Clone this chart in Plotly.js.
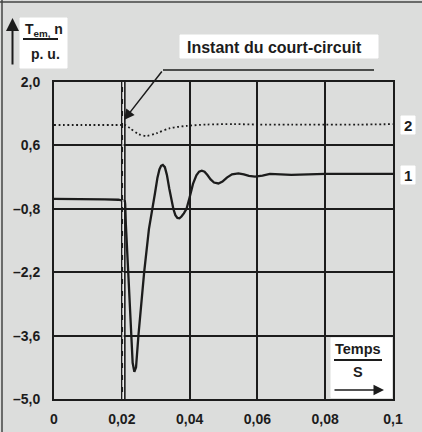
<!DOCTYPE html>
<html>
<head>
<meta charset="utf-8">
<script src="https://cdn.plot.ly/plotly-3.0.1.min.js"></script>
<style>html,body{margin:0;padding:0;background:#dcdddc;}</style>
</head>
<body>
<div id="chart" style="width:422px;height:432px;"></div>
<script>
// --- data ---
const xTickVals = [0, 0.02, 0.04, 0.06, 0.08, 0.1];
const xTickText = ['0', '0,02', '0,04', '0,06', '0,08', '0,1'];
const yTickVals = [2.0, 0.6, -0.8, -2.2, -3.6, -5.0];
const yTickText = ['2,0', '0,6', '\u20130,8', '\u20132,2', '\u20133,6', '\u20135,0'];

// curve 1 : electromagnetic torque Tem (p.u.)
const t1 = [0, 0.005, 0.01, 0.015, 0.019, 0.0203, 0.0209, 0.0210, 0.0212, 0.0219, 0.0227, 0.0232, 0.0237, 0.0242, 0.0249, 0.0257, 0.0266, 0.0280, 0.0291, 0.0298, 0.0305, 0.0311, 0.0316, 0.0321, 0.0327, 0.0333, 0.0340, 0.0346, 0.0352, 0.0358, 0.0364, 0.0370, 0.0376, 0.0383, 0.0391, 0.0400, 0.0410, 0.0420, 0.0428, 0.0436, 0.0444, 0.0452, 0.0462, 0.0472, 0.0485, 0.0497, 0.0510, 0.0525, 0.0544, 0.0560, 0.0575, 0.0593, 0.0615, 0.0637, 0.0670, 0.0700, 0.0750, 0.0800, 0.0900, 0.1000];
const v1 = [-0.58, -0.58, -0.59, -0.59, -0.60, -0.61, -0.63, -0.70, -1.15, -2.20, -3.60, -4.20, -4.40, -4.30, -3.60, -2.85, -2.20, -1.25, -0.80, -0.45, -0.12, 0.07, 0.15, 0.17, 0.12, -0.05, -0.35, -0.60, -0.80, -0.94, -1.00, -1.01, -0.97, -0.90, -0.80, -0.55, -0.25, -0.06, 0.02, 0.04, 0.02, -0.05, -0.15, -0.22, -0.24, -0.20, -0.11, -0.04, -0.016, -0.04, -0.075, -0.09, -0.07, -0.03, -0.04, -0.05, -0.04, -0.03, -0.03, -0.03];

// curve 2 : speed n (p.u.), dotted
const t2 = [0, 0.01, 0.02, 0.021, 0.0224, 0.0249, 0.0273, 0.0303, 0.0342, 0.0391, 0.045, 0.053, 0.06, 0.07, 0.08, 0.09, 0.1];
const v2 = [1.05, 1.05, 1.05, 1.05, 0.98, 0.85, 0.81, 0.87, 0.98, 1.03, 1.06, 1.07, 1.06, 1.06, 1.06, 1.06, 1.07];

const faultTime = 0.0209;

// --- layout helpers (pixel -> paper) ---
const L = 54, R = 393, T = 82, B = 399;
const PX = x => (x - L) / (R - L);
const PY = y => (B - y) / (B - T);
const INK = '#1c1c1c';
const BG = '#dcdddc';
const BOX = '#ffffff';
const FONT = 'Liberation Sans, Arial, Helvetica, sans-serif';

const traces = [
  {x: t1, y: v1, mode: 'lines', line: {color: INK, width: 2.3, shape: 'linear'}, hoverinfo: 'skip'},
  {x: t2, y: v2, mode: 'lines', line: {color: INK, width: 1.8, dash: '1.8px,2.6px', shape: 'spline', smoothing: 0.8}, hoverinfo: 'skip'}
];

const box = (x0, y0, x1, y1) => ({
  type: 'rect', xref: 'paper', yref: 'paper', x0: PX(x0), x1: PX(x1), y0: PY(y1), y1: PY(y0),
  fillcolor: BOX, opacity: 1, line: {color: BOX, width: 1}, layer: 'above'
});
const hline = (x0, x1, y, w) => ({
  type: 'line', xref: 'paper', yref: 'paper', x0: PX(x0), x1: PX(x1), y0: PY(y), y1: PY(y),
  line: {color: INK, width: w}, layer: 'above'
});

const shapes = [
  // scan border (top, left)
  {type: 'line', xref: 'paper', yref: 'paper', x0: PX(0), x1: PX(422), y0: PY(2), y1: PY(2), line: {color: '#444', width: 1.5}},
  {type: 'line', xref: 'paper', yref: 'paper', x0: PX(2), x1: PX(2), y0: PY(0), y1: PY(432), line: {color: '#444', width: 1.5}},
  // y label box + fraction bar
  box(20, 18, 67, 68),
  hline(23, 58, 39, 2),
  // "Instant du court-circuit" box and leader
  box(180, 35, 378, 58),
  hline(163, 374, 70, 1.5),
  // fault instant marker
  {type: 'line', xref: 'x', yref: 'y', x0: faultTime, x1: faultTime, y0: -5, y1: 2, line: {color: INK, width: 1.6}},
  {type: 'line', xref: 'x', yref: 'y', x0: 0.02035, x1: 0.02035, y0: -5, y1: 2, line: {color: '#ffffff', width: 1.2, dash: '7px,5px'}},
  // curve label boxes
  box(401, 116, 415, 134),
  box(401, 166, 415, 184),
  // "Temps / S" box
  box(331, 338, 391.5, 397.5),
  hline(334, 382, 360, 2)
];

const label = (s, size, x, y) => ({
  text: s, font: {family: FONT, size: size, color: INK, weight: 'bold'},
  xref: 'paper', yref: 'paper', x: PX(x), y: PY(y),
  xanchor: 'center', yanchor: 'middle', showarrow: false
});
const arrow = (hx, hy, ax, ay, size, width) => ({
  xref: 'paper', yref: 'paper', x: PX(hx), y: PY(hy), ax: ax, ay: ay, text: '',
  showarrow: true, arrowhead: 2, arrowsize: size, arrowwidth: width, arrowcolor: INK
});

const annotations = [
  label('T<sub>em,</sub> n', 14, 44, 30),
  label('p. u.', 14, 45, 54),
  arrow(12.5, 18, 0, 48, 1.3, 2),
  label('Instant du court-circuit', 16, 274, 47),
  arrow(124, 120, 39, -50, 1.4, 1.5),
  label('2', 15, 408, 125),
  label('1', 15, 408, 175),
  label('Temps', 14.5, 358, 349),
  label('S', 14.5, 358, 372),
  arrow(384, 390, -51, 0, 1.4, 1.5)
];

const axisCommon = {
  showline: true, mirror: true, linecolor: INK, linewidth: 2,
  showgrid: true, gridcolor: INK, gridwidth: 2, zeroline: false,
  tickmode: 'array', ticks: 'outside', tickcolor: 'rgba(0,0,0,0)',
  tickfont: {family: FONT, size: 14, color: INK, weight: 'bold'},
  fixedrange: true
};

const layout = {
  width: 422, height: 432,
  margin: {l: L, r: 422 - R, t: T, b: 432 - B, pad: 0},
  paper_bgcolor: BG, plot_bgcolor: BG,
  showlegend: false,
  xaxis: Object.assign({}, axisCommon, {range: [0, 0.1], tickvals: xTickVals, ticktext: xTickText, ticklen: 6}),
  yaxis: Object.assign({}, axisCommon, {range: [-5, 2], tickvals: yTickVals, ticktext: yTickText, ticklen: 9}),
  shapes: shapes,
  annotations: annotations
};

Plotly.newPlot('chart', traces, layout, {staticPlot: true, displayModeBar: false});
</script>
</body>
</html>
